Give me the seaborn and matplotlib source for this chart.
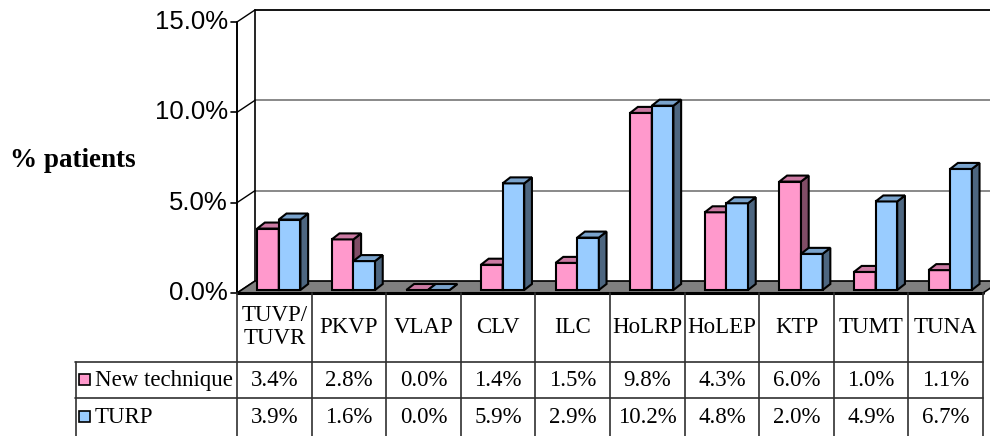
import numpy as np
import pandas as pd
import matplotlib
matplotlib.use("Agg")
import matplotlib.pyplot as plt
from matplotlib.patches import Polygon, Rectangle
import seaborn as sns

# data
techniques = ["TUVP/\nTUVR", "PKVP", "VLAP", "CLV", "ILC", "HoLRP", "HoLEP", "KTP", "TUMT", "TUNA"]
new_technique = [3.4, 2.8, 0.0, 1.4, 1.5, 9.8, 4.3, 6.0, 1.0, 1.1]
turp = [3.9, 1.6, 0.0, 5.9, 2.9, 10.2, 4.8, 2.0, 4.9, 6.7]
series_names = ["New technique", "TURP"]
yticks = [0, 5, 10, 15]

face = {"New technique": "#FF99CC", "TURP": "#99CCFF"}
top_c = {"New technique": "#CC7AA3", "TURP": "#7AA3CC"}
side_c = {"New technique": "#804D66", "TURP": "#4D6680"}

W, H = 990, 436
sns.set_theme(style="white")
plt.rcParams["font.family"] = ["Liberation Sans", "DejaVu Sans"]
plt.rcParams["text.color"] = "black"

fig = plt.figure(figsize=(W / 100, H / 100), dpi=100)

# geometry of the bar plane (pixels)
PPX = 74.6      # pixels per category
PPY = 18.07     # pixels per percent
X0 = 241.5      # pixel x of category -0.5
Y0 = 290        # pixel y (from top) of 0 %
ax = fig.add_axes([X0 / W, (H - Y0) / H, 10 * PPX / W, 15 * PPY / H])
ax.set_xlim(-0.5, 9.5)
ax.set_ylim(0, 15)
ax.axis("off")

# offsets of the front plane, back wall and bar depth in data units
fx, fy = -4.5 / PPX, -3 / PPY
bx, by = 13.5 / PPX, 9 / PPY
dx, dy = 7.7 / PPX, 6 / PPY

# back wall and gridlines
for v in yticks[1:]:
    col = "black" if v == 15 else "#808080"
    ax.plot([-0.5 + bx, 10.2], [v + by, v + by], color=col, lw=1.3, clip_on=False, zorder=1)
ax.plot([-0.5 + bx, -0.5 + bx], [by, 15 + by], color="black", lw=1.2, clip_on=False, zorder=1)
# side wall diagonals
for v in yticks:
    ax.plot([-0.5 + fx, -0.5 + bx], [v + fy, v + by], color="black", lw=1, clip_on=False, zorder=1)

# floor
floor = Polygon([(-0.5 + fx, fy), (9.5 + fx, fy), (9.5 + bx, by), (-0.5 + bx, by)],
                closed=True, fc="#808080", ec="black", lw=1.2, clip_on=False, zorder=1.5)
ax.add_patch(floor)
ax.plot([-0.5 + fx, 9.5 + fx], [fy, fy], color="black", lw=2.2, clip_on=False, zorder=1.6)

# bars
df = pd.DataFrame({
    "technique": techniques * 2,
    "series": [series_names[0]] * len(techniques) + [series_names[1]] * len(techniques),
    "value": new_technique + turp,
})
sns.barplot(data=df, x="technique", y="value", hue="series", hue_order=series_names,
            palette=face, width=0.58, saturation=1, edgecolor="black", linewidth=1.5,
            legend=False, ax=ax)
ax.set_xlim(-0.5, 9.5)
ax.set_ylim(0, 15)

for k, (name, cont) in enumerate(zip(series_names, ax.containers)):
    z = 3 + k
    for p in cont.patches:
        p.set_zorder(z)
        p.set_clip_on(False)
        x0, w, h = p.get_x(), p.get_width(), p.get_height()
        x1 = x0 + w
        side = Polygon([(x1, 0), (x1, h), (x1 + dx, h + dy), (x1 + dx, dy)], closed=True,
                       fc=side_c[name], ec="black", lw=1.5, clip_on=False, zorder=z)
        top = Polygon([(x0, h), (x1, h), (x1 + dx, h + dy), (x0 + dx, h + dy)], closed=True,
                      fc=top_c[name], ec="black", lw=1.5, clip_on=False, zorder=z)
        ax.add_patch(side)
        ax.add_patch(top)

# front value axis
ax.plot([-0.5 + fx, -0.5 + fx], [fy, 15 + fy], color="black", lw=1.4, clip_on=False, zorder=6)
for v in yticks:
    ax.plot([-0.5 + fx - 6 / PPX, -0.5 + fx], [v + fy, v + fy], color="black", lw=1.2,
            clip_on=False, zorder=6)
    ax.text(-0.5 + fx - 9 / PPX, v + fy, f"{v:.1f}%", ha="right", va="center",
            fontsize=18.5, color="black")

fig.text(10 / W, 1 - 160 / H, "% patients", ha="left", va="center", fontsize=19.5,
         fontweight="bold", family=["Liberation Serif", "DejaVu Serif"])

# data table
TL = 75           # left pixel of the table
TX0 = 237         # pixel x of the first column line
TY0 = 293
tax = fig.add_axes([TL / W, 0, (TX0 + 10 * PPX - TL) / W, (H - TY0) / H])
left_u = -0.5 - (TX0 - TL) / PPX
tax.set_xlim(left_u, 9.5)
tax.set_ylim(H, TY0)
tax.axis("off")

line_c = "#303030"
for i in range(11):
    tax.plot([i - 0.5, i - 0.5], [TY0, H], color=line_c, lw=1.2, clip_on=False)
for yy in [362, 398]:
    tax.plot([left_u, 9.5], [yy, yy], color=line_c, lw=1.2, clip_on=False)
tax.plot([left_u + 0.5 / PPX, left_u + 0.5 / PPX], [362, H], color=line_c, lw=1.2, clip_on=False)

serif = ["Liberation Serif", "DejaVu Serif"]
for i, t in enumerate(techniques):
    tax.text(i, 327, t, ha="center", va="center", fontsize=16.5, family=serif, linespacing=1.15)
for row_y, name, vals in [(380, series_names[0], new_technique), (417, series_names[1], turp)]:
    for i, v in enumerate(vals):
        tax.text(i, row_y, f"{v:.1f}%", ha="center", va="center", fontsize=16.5, family=serif)
    sx = left_u + 4 / PPX
    tax.add_patch(Rectangle((sx, row_y + 5), 11 / PPX, -11, fc=face[name], ec="black",
                            lw=1.2, clip_on=False))
    tax.text(left_u + 20 / PPX, row_y, name, ha="left", va="center", fontsize=16.5, family=serif)

fig.savefig("out.png", dpi=100)
